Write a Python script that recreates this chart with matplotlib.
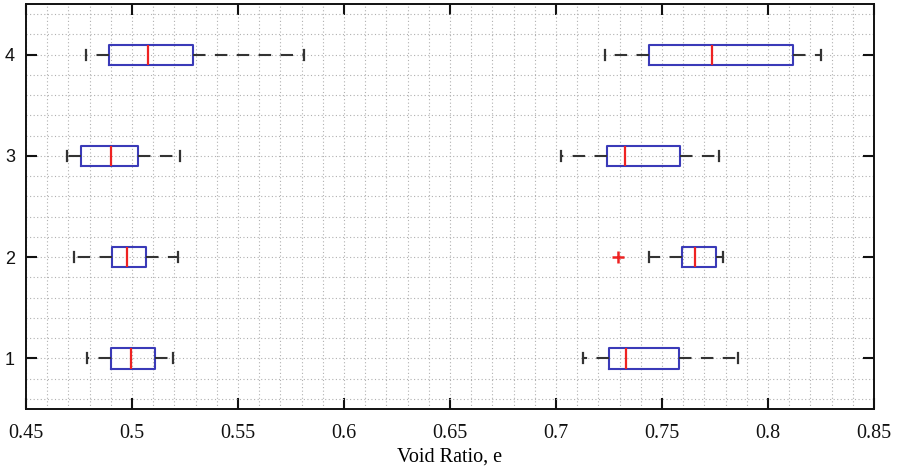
import matplotlib
matplotlib.use("Agg")
import matplotlib.pyplot as plt
from matplotlib.ticker import MultipleLocator

# Data (void ratio e), two groups per row
positions = [1, 2, 3, 4]
left_whislo = [0.4789, 0.4727, 0.4693, 0.4784]
left_q1 = [0.4902, 0.4906, 0.4760, 0.4892]
left_med = [0.4996, 0.4975, 0.4903, 0.5076]
left_q3 = [0.5110, 0.5066, 0.5030, 0.5287]
left_whishi = [0.5193, 0.5217, 0.5226, 0.5811]
left_fliers = [[], [], [], []]

right_whislo = [0.7126, 0.7441, 0.7022, 0.7229]
right_q1 = [0.7248, 0.7595, 0.7239, 0.7440]
right_med = [0.7330, 0.7654, 0.7325, 0.7736]
right_q3 = [0.7582, 0.7756, 0.7587, 0.8117]
right_whishi = [0.7858, 0.7788, 0.7767, 0.8249]
right_fliers = [[], [0.7291], [], []]

xticks = [0.45, 0.5, 0.55, 0.6, 0.65, 0.7, 0.75, 0.8, 0.85]
xticklabels = ["0.45", "0.5", "0.55", "0.6", "0.65", "0.7", "0.75", "0.8", "0.85"]
yticks = [1, 2, 3, 4]
yticklabels = ["1", "2", "3", "4"]

fig = plt.figure(figsize=(8.98, 4.71), dpi=100)
ax = fig.add_axes([26 / 898, 1 - 409 / 471, (874 - 26) / 898, (409 - 4) / 471])

def make_stats(lo, q1, med, q3, hi, fl):
    return [dict(whislo=a, q1=b, med=c, q3=d, whishi=e, fliers=f)
            for a, b, c, d, e, f in zip(lo, q1, med, q3, hi, fl)]

style = dict(
    vert=False, widths=0.2, showfliers=True,
    boxprops=dict(color="#3a3ab8", linewidth=1.5),
    medianprops=dict(color="#ee2222", linewidth=1.6),
    whiskerprops=dict(color="#333333", linewidth=1.5, linestyle=(0, (6, 4.5))),
    capprops=dict(color="#333333", linewidth=1.6),
    flierprops=dict(marker="+", markeredgecolor="#ee2222", markersize=9, markeredgewidth=1.8),
)
for stats in (make_stats(left_whislo, left_q1, left_med, left_q3, left_whishi, left_fliers),
              make_stats(right_whislo, right_q1, right_med, right_q3, right_whishi, right_fliers)):
    ax.bxp(stats, positions=positions, manage_ticks=False, **style)

ax.set_xlim(0.45, 0.85)
ax.set_ylim(0.5, 4.5)
ax.set_xticks(xticks)
ax.set_xticklabels(xticklabels, fontfamily="Liberation Serif", fontsize=14.5)
ax.set_yticks(yticks)
ax.set_yticklabels(yticklabels, fontfamily="Liberation Sans", fontsize=13)
ax.xaxis.set_minor_locator(MultipleLocator(0.01))
ax.yaxis.set_minor_locator(MultipleLocator(0.2))
ax.grid(True, which="both", color="#b0b0b0", linestyle=(0, (1, 2.2)), linewidth=0.8)
ax.set_axisbelow(True)
ax.tick_params(which="major", direction="in", top=True, right=True, length=8, width=1.5, pad=8, colors="#111111")
ax.tick_params(axis="x", which="major", pad=11)
ax.tick_params(which="minor", length=0)
for s in ax.spines.values():
    s.set_linewidth(1.4)
    s.set_color("#111111")
ax.set_xlabel("Void Ratio, e", fontfamily="Liberation Serif", fontsize=14.5, labelpad=3)

fig.savefig("out.png", dpi=100)
